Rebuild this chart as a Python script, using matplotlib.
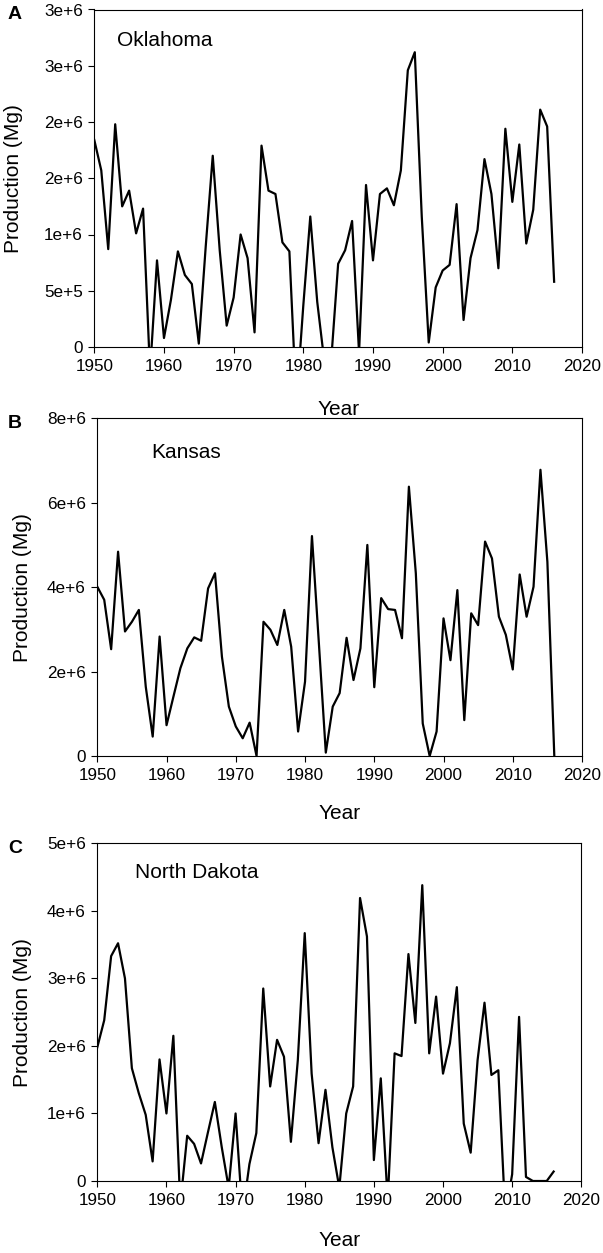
import numpy as np
import matplotlib.pyplot as plt

plt.rcParams['font.family'] = ['Liberation Sans', 'DejaVu Sans']

# crop years
years = np.arange(1950, 2017)

# production, in millions of Mg
oklahoma = [1.84, 1.57, 0.87, 1.98, 1.25, 1.39, 1.01, 1.23, -0.22, 0.77,
            0.08, 0.42, 0.85, 0.64, 0.56, 0.03, 0.90, 1.70, 0.86, 0.19,
            0.44, 1.00, 0.79, 0.13, 1.79, 1.39, 1.36, 0.93, 0.85, -0.50,
            0.37, 1.16, 0.40, -0.12, -0.12, 0.74, 0.86, 1.12, -0.05, 1.44,
            0.77, 1.36, 1.41, 1.26, 1.57, 2.46, 2.62, 1.16, 0.04, 0.53,
            0.68, 0.73, 1.27, 0.24, 0.79, 1.04, 1.67, 1.36, 0.70, 1.94,
            1.29, 1.80, 0.92, 1.22, 2.11, 1.96, 0.58]
kansas = [4.01, 3.70, 2.53, 4.84, 2.95, 3.18, 3.46, 1.64, 0.46, 2.83,
          0.73, 1.41, 2.08, 2.55, 2.81, 2.73, 3.97, 4.33, 2.35, 1.17,
          0.70, 0.42, 0.79, 0.00, 3.18, 2.99, 2.63, 3.46, 2.59, 0.58,
          1.76, 5.21, 2.67, 0.08, 1.17, 1.49, 2.80, 1.80, 2.55, 5.00,
          1.63, 3.74, 3.48, 3.46, 2.79, 6.38, 4.33, 0.77, 0.00, 0.58,
          3.26, 2.27, 3.93, 0.85, 3.38, 3.10, 5.08, 4.68, 3.30, 2.87,
          2.05, 4.30, 3.30, 4.01, 6.78, 4.60, 0.00]
north_dakota = [1.98, 2.38, 3.33, 3.52, 3.00, 1.67, 1.30, 0.98, 0.29, 1.80,
                1.00, 2.15, -0.35, 0.67, 0.55, 0.26, 0.72, 1.17, 0.50, -0.10,
                1.00, -0.50, 0.25, 0.71, 2.85, 1.40, 2.09, 1.84, 0.58, 1.79,
                3.67, 1.59, 0.56, 1.35, 0.50, -0.10, 1.00, 1.40, 4.19, 3.62,
                0.31, 1.52, -0.30, 1.89, 1.85, 3.36, 2.34, 4.38, 1.89, 2.73,
                1.59, 2.04, 2.87, 0.85, 0.42, 1.79, 2.64, 1.57, 1.64, -0.50,
                0.10, 2.43, 0.06, 0.00, 0.00, 0.00, 0.14]

x_ticks = [1950, 1960, 1970, 1980, 1990, 2000, 2010, 2020]

ticks_a = [0, 0.5e6, 1.0e6, 1.5e6, 2.0e6, 2.5e6, 3.0e6]
labels_a = ['0', '5e+5', '1e+6', '2e+6', '2e+6', '3e+6', '3e+6']
ticks_b = [0, 2e6, 4e6, 6e6, 8e6]
labels_b = ['0', '2e+6', '4e+6', '6e+6', '8e+6']
ticks_c = [0, 1e6, 2e6, 3e6, 4e6, 5e6]
labels_c = ['0', '1e+6', '2e+6', '3e+6', '4e+6', '5e+6']

W, H = 603, 1253
fig = plt.figure(figsize=(W / 100, H / 100), dpi=100)

panels = [
    # letter, state, values, yticks, ylabels, ymax, (left, right, top, bottom) px,
    # state text pos px, ylabel right edge px, xlabel offset
    ('A', 'Oklahoma', oklahoma, ticks_a, labels_a, 3e6, (94.3, 582, 9.5, 347),
     (117, 40), 23, -0.157),
    ('B', 'Kansas', kansas, ticks_b, labels_b, 8e6, (97.3, 582, 418.3, 756),
     (151, 453), 32, -0.142),
    ('C', 'North Dakota', north_dakota, ticks_c, labels_c, 5e6, (97.3, 581.3, 843.3, 1181),
     (135, 873), 32, -0.148),
]

for letter, state, vals, yt, yl, ymax, box, txt, ylab_x, xlab_y in panels:
    l, r, t, b = box
    ax = fig.add_axes([l / W, 1 - b / H, (r - l) / W, (b - t) / H])
    ax.plot(years, np.array(vals) * 1e6, color='black', lw=1.6)
    ax.set_xlim(1950, 2020)
    ax.set_ylim(0, ymax)
    ax.set_xticks(x_ticks)
    ax.set_yticks(yt)
    ax.set_yticklabels(yl)
    ax.tick_params(direction='out', length=4.3, width=0.8, labelsize=12.3, pad=4)
    for s in ax.spines.values():
        s.set_linewidth(0.8)
    ax.set_xlabel('Year', fontsize=15)
    ax.set_ylabel('Production (Mg)', fontsize=15)
    ax.xaxis.set_label_coords(0.5, xlab_y)
    ax.yaxis.set_label_coords((ylab_x - l) / (r - l), 0.5)
    ax.text((txt[0] - l) / (r - l), (b - txt[1]) / (b - t), state, transform=ax.transAxes,
            fontsize=15, ha='left', va='center')
    fig.text(15 / W, 1 - (t + 5) / H, letter, fontsize=14, fontweight='bold',
             ha='center', va='center')

plt.savefig('out.png', dpi=100)
